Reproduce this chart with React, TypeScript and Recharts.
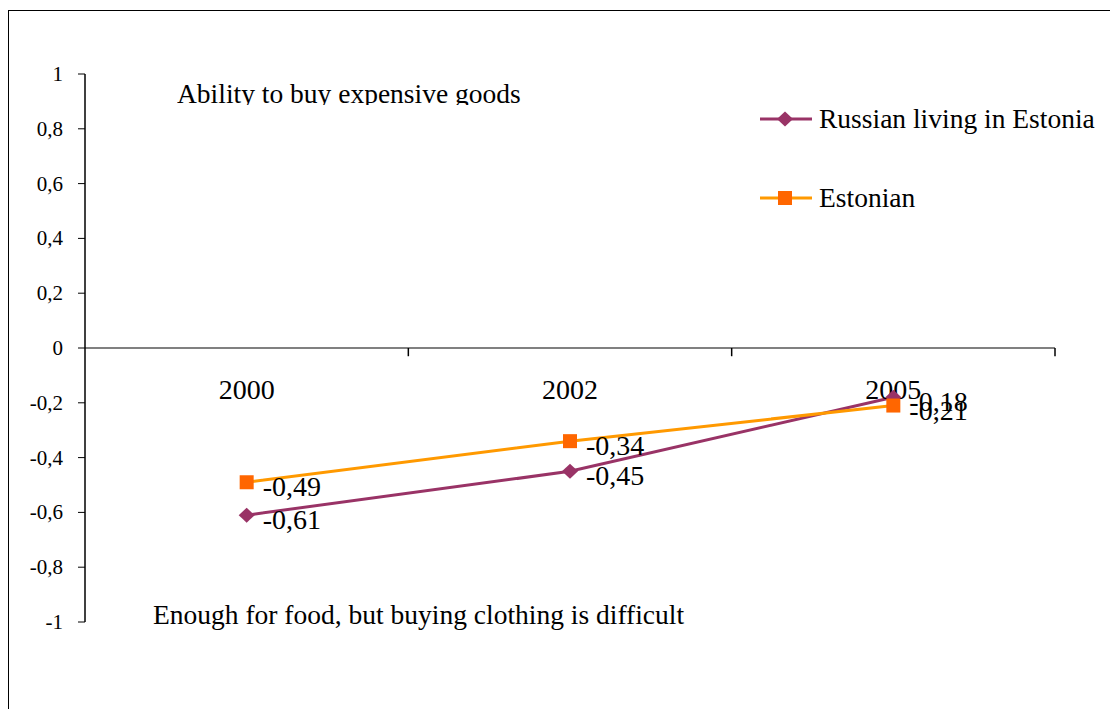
import React from "react";
import {
  LineChart,
  Line,
  XAxis,
  YAxis,
  ReferenceLine,
  ReferenceDot,
  LabelList,
  Legend,
} from "recharts";

const years = ["2000", "2002", "2005"];
const russian = [-0.61, -0.45, -0.18];
const estonian = [-0.49, -0.34, -0.21];
const yTicks = [-1, -0.8, -0.6, -0.4, -0.2, 0, 0.2, 0.4, 0.6, 0.8, 1];
const seriesNames = ["Russian living in Estonia", "Estonian"];
const topNote = "Ability to buy expensive goods";
const bottomNote = "Enough for food, but buying clothing is difficult";

const data = years.map((year, i) => ({
  year,
  pos: i + 0.5,
  russian: russian[i],
  estonian: estonian[i],
}));
const boundaries = years.map((_, i) => i + 1);

const serif = "Liberation Serif, Times New Roman, serif";
const fmt = (v: number) => String(v).replace(".", ",");

const RUSSIAN = "#993366";
const ESTONIAN_LINE = "#FF9900";
const ESTONIAN_MARK = "#FF6600";

function Diamond({ cx, cy, color }: { cx: number; cy: number; color: string }) {
  return (
    <path
      d={`M${cx},${cy - 7.5} L${cx + 8},${cy} L${cx},${cy + 7.5} L${cx - 8},${cy} Z`}
      fill={color}
      stroke="none"
    />
  );
}

function Square({ cx, cy, color }: { cx: number; cy: number; color: string }) {
  return <rect x={cx - 7} y={cy - 7} width={14} height={14} fill={color} stroke="none" />;
}

const series = [
  { key: "russian", name: seriesNames[0], stroke: RUSSIAN, mark: RUSSIAN, Marker: Diamond },
  { key: "estonian", name: seriesNames[1], stroke: ESTONIAN_LINE, mark: ESTONIAN_MARK, Marker: Square },
];

const renderLegend = () => (
  <div style={{ fontFamily: serif, fontSize: 27.5, color: "#000" }}>
    {series.map((s, i) => (
      <div
        key={s.key}
        style={{
          display: "flex",
          alignItems: "center",
          height: 40,
          marginBottom: i === 0 ? 39 : 0,
          whiteSpace: "nowrap",
        }}
      >
        <svg width={59} height={20} style={{ flex: "none" }}>
          <line x1={0} y1={10} x2={52} y2={10} stroke={s.stroke} strokeWidth={3} />
          <s.Marker cx={25} cy={10} color={s.mark} />
        </svg>
        <span>{s.name}</span>
      </div>
    ))}
  </div>
);

const dataLabel = (props: any) => {
  const { x, y, value } = props;
  return (
    <text x={x + 16} y={y + 14} style={{ fontSize: 28, fontFamily: serif, fill: "#000" }}>
      {fmt(value)}
    </text>
  );
};

const yTick = (props: any) => {
  const { x, y, payload } = props;
  return (
    <text
      x={x}
      y={y + 7}
      textAnchor="end"
      style={{ fontSize: 21, fontFamily: serif, fill: "#000" }}
    >
      {fmt(payload.value)}
    </text>
  );
};

export default function App() {
  return (
    <div
      style={{
        position: "fixed",
        left: 8,
        top: 10,
        width: 1110,
        height: 710,
        border: "1px solid #000",
        background: "#fff",
        fontFamily: serif,
      }}
    >
      <div style={{ position: "relative" }}>
        <LineChart
          width={1100}
          height={698}
          data={data}
          margin={{ top: 63, right: 54, bottom: 87, left: 16 }}
        >
          <XAxis dataKey="pos" type="number" domain={[0, years.length]} hide />
          <YAxis
            domain={[-1, 1]}
            ticks={yTicks}
            interval={0}
            width={60}
            axisLine={{ stroke: "#000", strokeWidth: 1.5 }}
            tickLine={{ stroke: "#000" }}
            tickSize={7}
            tickMargin={15}
            tick={yTick}
          />
          <ReferenceLine y={0} stroke="#808080" strokeWidth={2} />
          {boundaries.map((b) => (
            <ReferenceLine
              key={b}
              segment={[
                { x: b, y: 0 },
                { x: b, y: -0.03 },
              ]}
              stroke="#000"
              strokeWidth={1.5}
            />
          ))}
          {data.map((d) => (
            <ReferenceDot
              key={d.year}
              x={d.pos}
              y={0}
              r={0}
              fill="none"
              stroke="none"
              label={(p: any) => (
                <text
                  x={p.viewBox.x}
                  y={p.viewBox.y + 51}
                  textAnchor="middle"
                  style={{ fontSize: 28, fontFamily: serif, fill: "#000" }}
                >
                  {d.year}
                </text>
              )}
            />
          ))}
          {series.map((s) => (
            <Line
              key={s.key}
              dataKey={s.key}
              name={s.name}
              type="linear"
              stroke={s.stroke}
              strokeWidth={3}
              isAnimationActive={false}
              activeDot={false}
              dot={(p: any) => <s.Marker key={`${s.key}-${p.index}`} cx={p.cx} cy={p.cy} color={s.mark} />}
            >
              <LabelList dataKey={s.key} content={dataLabel} />
            </Line>
          ))}
          <Legend
            layout="vertical"
            align="center"
            verticalAlign="middle"
            content={renderLegend}
            wrapperStyle={{ left: 751, top: 88, width: 360 }}
          />
        </LineChart>
        <div
          style={{
            position: "absolute",
            left: 168,
            top: 69.2,
            height: 25.3,
            overflow: "hidden",
            fontSize: 27.5,
            lineHeight: "27px",
            whiteSpace: "nowrap",
            color: "#000",
          }}
        >
          {topNote}
        </div>
        <div
          style={{
            position: "absolute",
            left: 144,
            top: 590.2,
            fontSize: 27.5,
            lineHeight: "27px",
            whiteSpace: "nowrap",
            color: "#000",
          }}
        >
          {bottomNote}
        </div>
      </div>
    </div>
  );
}
